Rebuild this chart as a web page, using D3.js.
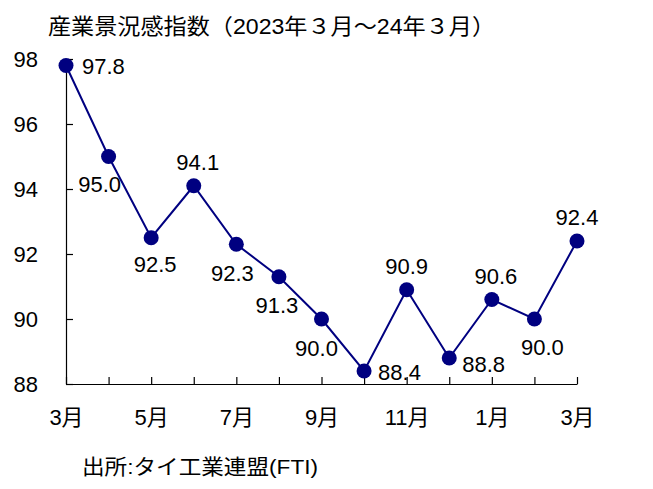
<!DOCTYPE html>
<html>
<head>
<meta charset="utf-8">
<script src="https://cdn.jsdelivr.net/npm/d3@7"></script>
<style>
  html, body { margin: 0; padding: 0; background: #fff; }
  svg { display: block; }
  text { fill: #000; }
</style>
</head>
<body>
<svg id="chart" width="653" height="489"></svg>
<script>
// ---- data ----
const months = ["3月","4月","5月","6月","7月","8月","9月","10月","11月","12月","1月","2月","3月"];
const values = [97.8, 95.0, 92.5, 94.1, 92.3, 91.3, 90.0, 88.4, 90.9, 88.8, 90.6, 90.0, 92.4];
const yTicks = [88, 90, 92, 94, 96, 98];
const xTickLabels = ["3月","","5月","","7月","","9月","","11月","","1月","","3月"];
const titleText = "産業景況感指数（2023年３月～24年３月）";
const sourceText = "出所:タイ工業連盟(FTI)";

// ---- label placement (style only) ----
const labelPlace = [
  {dx: 16, dy: 1, anchor: "start"},
  {dx: -9, dy: 28, anchor: "middle"},
  {dx: 4, dy: 26, anchor: "middle"},
  {dx: 4, dy: -24, anchor: "middle"},
  {dx: -4, dy: 29, anchor: "middle"},
  {dx: -2, dy: 28, anchor: "middle"},
  {dx: -5, dy: 29, anchor: "middle"},
  {dx: 14, dy: 1, anchor: "start"},
  {dx: 0, dy: -24, anchor: "middle"},
  {dx: 13, dy: 6, anchor: "start"},
  {dx: 4, dy: -23, anchor: "middle"},
  {dx: 8, dy: 28, anchor: "middle"},
  {dx: 0, dy: -24, anchor: "middle"}
];

const svg = d3.select("#chart");
const numFont = "'Liberation Sans', Arial, 'Noto Sans CJK JP', sans-serif";

const x = d3.scaleLinear().domain([0, months.length - 1]).range([66, 577]);
const y = d3.scaleLinear().domain([88, 98]).range([384, 59]);

// title
svg.append("text")
  .attr("x", 48).attr("y", 34)
  .attr("font-family", numFont)
  .attr("font-size", 22)
  .attr("textLength", 447)
  .attr("lengthAdjust", "spacingAndGlyphs")
  .text(titleText);

// y axis
const yAxis = d3.axisLeft(y)
  .tickValues(yTicks)
  .tickSize(-7)
  .tickSizeOuter(0)
  .tickPadding(28)
  .tickFormat(d3.format("d"));
const gy = svg.append("g").attr("transform", "translate(66,0)").call(yAxis);
gy.selectAll("text").attr("font-family", numFont).attr("font-size", 22).attr("fill", "#000");
gy.selectAll("line, path").attr("stroke", "#000").attr("stroke-width", 1.2);

// x axis
const xAxis = d3.axisBottom(x)
  .tickValues(d3.range(months.length))
  .tickSize(-7)
  .tickSizeOuter(0)
  .tickPadding(25)
  .tickFormat((d, i) => xTickLabels[i]);
const gx = svg.append("g").attr("transform", "translate(0,384)").call(xAxis);
gx.selectAll("text").attr("font-family", numFont).attr("font-size", 22).attr("fill", "#000");
gx.selectAll("line, path").attr("stroke", "#000").attr("stroke-width", 1.2);

// line
const line = d3.line().x((d, i) => x(i)).y(d => y(d));
svg.append("path")
  .datum(values)
  .attr("d", line)
  .attr("fill", "none")
  .attr("stroke", "#000080")
  .attr("stroke-width", 2);

// markers
svg.selectAll("circle.pt")
  .data(values)
  .enter().append("circle")
  .attr("class", "pt")
  .attr("cx", (d, i) => x(i))
  .attr("cy", d => y(d))
  .attr("r", 7.5)
  .attr("fill", "#000080");

// value labels
svg.selectAll("text.val")
  .data(values)
  .enter().append("text")
  .attr("class", "val")
  .attr("x", (d, i) => x(i) + labelPlace[i].dx)
  .attr("y", (d, i) => y(d) + labelPlace[i].dy)
  .attr("dy", "0.36em")
  .attr("text-anchor", (d, i) => labelPlace[i].anchor)
  .attr("font-family", numFont)
  .attr("font-size", 22)
  .text(d => d.toFixed(1));

// source
svg.append("text")
  .attr("x", 82).attr("y", 474)
  .attr("font-family", numFont)
  .attr("font-size", 21)
  .attr("textLength", 236)
  .attr("lengthAdjust", "spacingAndGlyphs")
  .text(sourceText);
</script>
</body>
</html>
